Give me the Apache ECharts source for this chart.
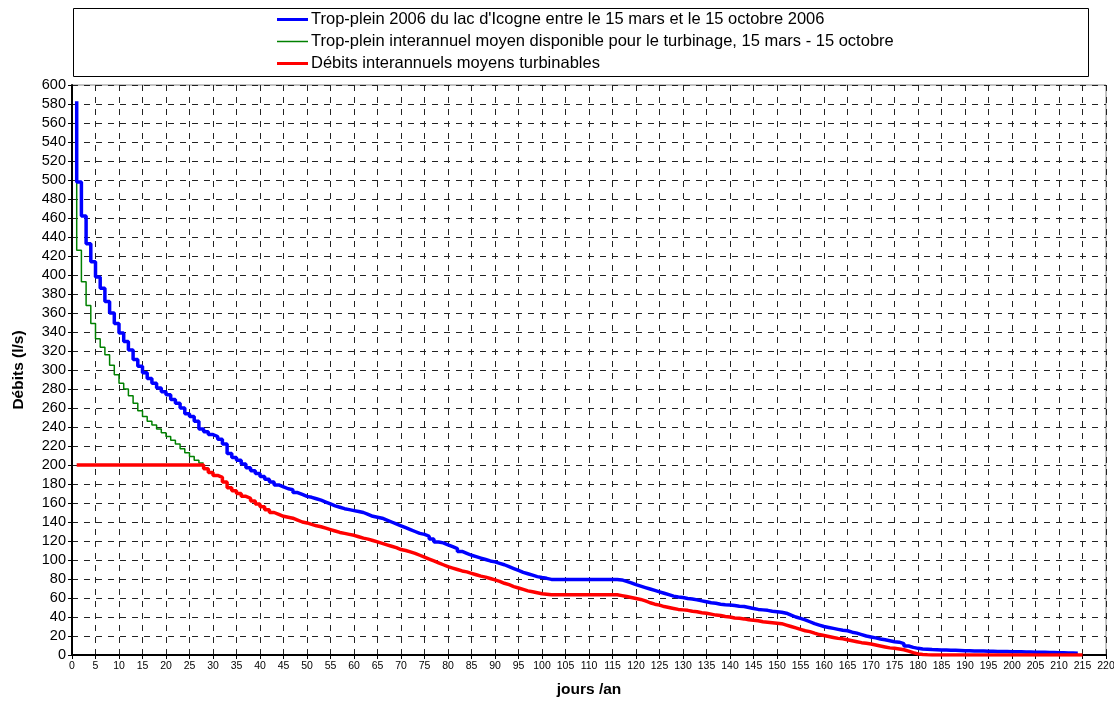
<!DOCTYPE html>
<html><head><meta charset="utf-8">
<script src="https://cdn.jsdelivr.net/npm/echarts@6/dist/echarts.min.js"></script>
<style>html,body{margin:0;padding:0;background:#fff}#c{width:1114px;height:702px}</style>
</head><body><div id="c"></div>
<script>
// Series names
const nameBlue = "Trop-plein 2006 du lac d'Icogne entre le 15 mars et le 15 octobre 2006";
const nameGreen = "Trop-plein interannuel moyen disponible pour le turbinage, 15 mars - 15 octobre";
const nameRed = "Débits interannuels moyens turbinables";

// Daily values, day 1 onward (l/s)
const blueValues = [
583,498,462,433,414,398,386,372,360,349,
339,330,321,311,304,297,291,286,281,277,
274,269,265,260,254,251,246,238,235,232,
230,227,222,212,208,205,201,197,194,191,
188,185,182,179,177,175,174,171,169,167,
166,164.5,163,161,159,157,155.5,154,153,152,
151,150,148,146,145,144,142,140,138,136,
134,132,130,128,127,125,122,119,118,116,
114,112,109,107,105,103.5,102,100.5,99,98,
96.5,95,93,91,89,87,85.5,84,82.5,81.5,
80.7,79.6,79.6,79.6,79.6,79.6,79.6,79.6,79.6,79.6,
79.6,79.6,79.6,79.6,79.6,79.5,79,77.5,76,74,
72.5,71,69.5,68,66.5,65,63.5,62,61,60.5,
59.5,59,58,57,56,55,54.5,53.5,53,52.6,
52,51.3,51,50,49,48,47.5,47,46,45.5,
45,44,42,40,38.5,37,35,33,31.5,30,
29,28,27,26,25.5,24,23,21.5,20,19,
18,16.8,16,15,14,13.5,12,9.5,8,7,
6.3,6,5.7,5.5,5.3,5.2,5,4.9,4.8,4.6,
4.5,4.3,4.2,4.1,4,3.9,3.8,3.7,3.6,3.5,
3.4,3.3,3.2,3.1,3,2.9,2.8,2.7,2.6,2.5,
2.3,2.1,2,1.8
];
const greenValues = [
521,426,393,368,349,333,324,316,305,295,
286,280,273,265,257,251,246,242,238,234,
230,226,222,217,213,209,205,202
];
const redValues = [
200,200,200,200,200,200,200,200,200,200,
200,200,200,200,200,200,200,200,200,200,
200,200,200,200,200,200,200,200,196,192,
189,187,182,176,173,170,167,165,162,159,
156,153,150,148,146,145,144,142,140,139,
137.5,136,135,133.5,132,130.5,129,128,127,126,
124.5,123,122,120.5,119,117.5,116,114.5,113,111,
110,108.5,107,105,103,101,99,97,95,93,
91.5,90,88.5,87.5,86,84.5,83,82,80.5,79,
77.5,75.5,74,72,70.5,69,67.5,66.5,65.5,64.5,
64,63.5,63.5,63.5,63.5,63.5,63.5,63.5,63.5,63.5,
63.5,63.5,63.5,63.5,63.5,63.5,62.5,61.5,60.5,59.5,
58.5,57,55,53.5,52.5,51,50,49,48,47.5,
47,46,45.5,44.5,44,43,42,41.5,40.5,40,
39,38.6,38,37,36.5,36,35,34.5,34,33.5,
33,31.5,30,28.5,27,25.5,24.6,23,21.5,20.5,
19.5,18.5,17.5,17,16,15,14,13,12.3,11.5,
10.5,9.5,8.5,7.5,7,6.3,5.5,4,2.5,1.2,
0.5,0.2,0,0,0,0,0,0,0,0,
0,0,0,0,0,0,0,0,0,0,
0,0,0,0,0,0,0,0,0,0,
0,0,0,0,0
];

// Axis settings
const xMin = 0, xMax = 220, xStep = 5;
const yMin = 0, yMax = 600, yStep = 20;
const xTitle = "jours /an";
const yTitle = "Débits (l/s)";

const toPairs = arr => arr.map((v, i) => [i + 1, v]);
const FONT = "'Liberation Sans', Arial, sans-serif";
const thickIcon = 'path://M0,0 L31,0 L31,3 L0,3 Z';
const thinIcon = 'path://M0,0 L62,0 L62,3 L0,3 Z';

const chart = echarts.init(document.getElementById('c'), null, {renderer: 'canvas'});
chart.setOption({
  animation: false,
  backgroundColor: '#fff',
  textStyle: {fontFamily: FONT, color: '#000'},
  grid: {left: 72, right: 8, top: 85, bottom: 47, containLabel: false, outerBoundsMode: 'none',
         show: true, borderColor: '#8a8a8a', borderWidth: 1},
  graphic: [{
    type: 'rect', z: 0, silent: true,
    shape: {x: 73.5, y: 8.5, width: 1015, height: 68},
    style: {fill: 'none', stroke: '#000', lineWidth: 1}
  }],
  legend: {
    orient: 'vertical', left: 277, top: 11, padding: 0,
    itemWidth: 31, itemHeight: 14, itemGap: 5, symbolKeepAspect: true,
    data: [
      {name: nameBlue, icon: thickIcon, itemStyle: {color: '#0000FF'}},
      {name: nameGreen, icon: thinIcon, itemStyle: {color: '#008000'}},
      {name: nameRed, icon: thickIcon, itemStyle: {color: '#FF0000'}}
    ],
    textStyle: {fontSize: 16.5, color: '#000', fontFamily: FONT, padding: [0, 0, 0, -2]}
  },
  xAxis: {
    type: 'value', min: xMin, max: xMax, interval: xStep,
    name: xTitle, nameLocation: 'middle', nameGap: 27,
    nameTextStyle: {fontWeight: 'bold', fontSize: 15.5, color: '#000', fontFamily: FONT},
    axisLine: {show: true, onZero: false, lineStyle: {color: '#000', width: 2}},
    axisTick: {show: true, length: 4, lineStyle: {color: '#000'}},
    axisLabel: {fontSize: 10.5, color: '#000', margin: 6, fontFamily: FONT},
    splitLine: {show: true, lineStyle: {color: '#222', width: 1, type: [6, 6]}}
  },
  yAxis: {
    type: 'value', min: yMin, max: yMax, interval: yStep,
    name: yTitle, nameLocation: 'middle', nameGap: 45, nameRotate: 90,
    nameTextStyle: {fontWeight: 'bold', fontSize: 15.5, color: '#000', fontFamily: FONT},
    axisLine: {show: true, lineStyle: {color: '#000', width: 2}},
    axisTick: {show: true, length: 4, lineStyle: {color: '#000'}},
    axisLabel: {fontSize: 14.5, color: '#000', margin: 6, fontFamily: FONT},
    splitLine: {show: true, lineStyle: {color: '#222', width: 1, type: [6, 6]}}
  },
  series: [
    {name: nameGreen, type: 'line', step: 'start', data: toPairs(greenValues),
     symbol: 'none', showSymbol: false, z: 3,
     lineStyle: {color: '#008000', width: 1.5}, itemStyle: {color: '#008000'}},
    {name: nameBlue, type: 'line', step: 'start', data: toPairs(blueValues),
     symbol: 'none', showSymbol: false, z: 4,
     lineStyle: {color: '#0000FF', width: 3.5}, itemStyle: {color: '#0000FF'}},
    {name: nameRed, type: 'line', step: 'start', data: toPairs(redValues),
     symbol: 'none', showSymbol: false, z: 5,
     lineStyle: {color: '#FF0000', width: 3.5}, itemStyle: {color: '#FF0000'}}
  ]
});
</script>
</body></html>
